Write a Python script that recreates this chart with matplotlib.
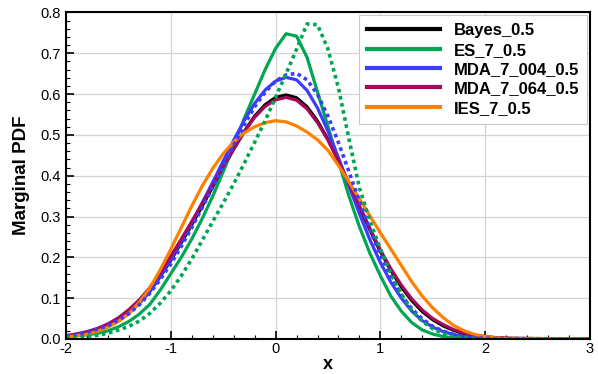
import numpy as np
import matplotlib
matplotlib.use('Agg')
import matplotlib.pyplot as plt
from matplotlib.ticker import MultipleLocator, FormatStrFormatter

plt.rcParams['font.family'] = ['Liberation Sans', 'DejaVu Sans']

# sample positions (x = -2.0 ... 2.2 by 0.1, then 3.0)
x = list(np.round(np.arange(-2.0, 2.21, 0.1), 1)) + [3.0]

bayes = [0.007, 0.010, 0.015, 0.022, 0.031, 0.045, 0.064, 0.088, 0.117, 0.153,
         0.193, 0.236, 0.280, 0.326, 0.373, 0.420, 0.465, 0.508, 0.546, 0.574,
         0.592, 0.598, 0.591, 0.569, 0.534, 0.489, 0.436, 0.380, 0.323, 0.267,
         0.214, 0.168, 0.127, 0.094, 0.067, 0.047, 0.032, 0.021, 0.013, 0.008,
         0.005, 0.003, 0.0015, 0.0]
es = [0.006, 0.008, 0.010, 0.014, 0.020, 0.030, 0.043, 0.061, 0.085, 0.120,
      0.160, 0.200, 0.245, 0.295, 0.350, 0.410, 0.472, 0.540, 0.600, 0.660,
      0.712, 0.748, 0.742, 0.690, 0.605, 0.520, 0.435, 0.350, 0.275, 0.210,
      0.155, 0.105, 0.068, 0.040, 0.022, 0.012, 0.006, 0.003, 0.0015, 0.0005,
      0.0, 0.0, 0.0, 0.0]
mda004 = [0.0065, 0.010, 0.015, 0.022, 0.032, 0.045, 0.064, 0.088, 0.117, 0.155,
          0.196, 0.240, 0.285, 0.334, 0.384, 0.436, 0.487, 0.535, 0.577, 0.610,
          0.632, 0.641, 0.635, 0.609, 0.566, 0.509, 0.444, 0.375, 0.307, 0.243,
          0.187, 0.139, 0.100, 0.068, 0.045, 0.029, 0.018, 0.011, 0.006, 0.0035,
          0.002, 0.001, 0.0005, 0.0]
mda064 = [0.008, 0.0125, 0.018, 0.026, 0.037, 0.052, 0.072, 0.096, 0.126, 0.162,
          0.203, 0.245, 0.288, 0.332, 0.377, 0.422, 0.466, 0.507, 0.543, 0.570,
          0.586, 0.592, 0.585, 0.564, 0.530, 0.487, 0.436, 0.382, 0.326, 0.271,
          0.218, 0.172, 0.132, 0.098, 0.071, 0.050, 0.035, 0.023, 0.015, 0.009,
          0.006, 0.0035, 0.002, 0.0]
ies = [0.005, 0.008, 0.012, 0.019, 0.029, 0.043, 0.062, 0.090, 0.125, 0.170,
       0.220, 0.273, 0.326, 0.375, 0.418, 0.454, 0.483, 0.505, 0.520, 0.530,
       0.535, 0.532, 0.522, 0.507, 0.488, 0.462, 0.425, 0.385, 0.343, 0.302,
       0.260, 0.220, 0.180, 0.140, 0.105, 0.076, 0.052, 0.033, 0.020, 0.011,
       0.006, 0.003, 0.001, 0.0]
# dotted curves (not in legend)
es_dot = [0.002, 0.004, 0.006, 0.009, 0.014, 0.022, 0.031, 0.044, 0.063, 0.088,
          0.118, 0.155, 0.196, 0.242, 0.288, 0.333, 0.380, 0.430, 0.482, 0.535,
          0.592, 0.650, 0.710, 0.772, 0.770, 0.710, 0.615, 0.490, 0.370, 0.290,
          0.220, 0.160, 0.110, 0.070, 0.043, 0.025, 0.013, 0.006, 0.003, 0.001,
          0.0, 0.0, 0.0, 0.0]
mda004_dot = [0.0075, 0.011, 0.016, 0.024, 0.033, 0.046, 0.062, 0.084, 0.112, 0.146,
              0.184, 0.227, 0.273, 0.322, 0.372, 0.424, 0.475, 0.524, 0.569, 0.605,
              0.632, 0.647, 0.651, 0.635, 0.599, 0.546, 0.481, 0.410, 0.337, 0.268,
              0.206, 0.153, 0.108, 0.074, 0.049, 0.031, 0.019, 0.011, 0.006, 0.0035,
              0.002, 0.001, 0.0005, 0.0]

fig = plt.figure(figsize=(5.98, 3.74), dpi=100)
ax = fig.add_axes([0.1104, 0.0936, 0.8762, 0.873])

lw = 2.3
ax.plot(x, bayes, color='#000000', lw=lw, label='Bayes_0.5')
ax.plot(x, es, color='#00a651', lw=lw, label='ES_7_0.5')
ax.plot(x, mda004, color='#3c3cff', lw=lw, label='MDA_7_004_0.5')
ax.plot(x, mda064, color='#a50a5a', lw=lw, label='MDA_7_064_0.5')
ax.plot(x, ies, color='#ff8000', lw=lw, label='IES_7_0.5')
ax.plot(x, mda004_dot, color='#3c3cff', lw=2.6, ls=(0, (1, 1)))
ax.plot(x, es_dot, color='#00a651', lw=2.6, ls=(0, (1, 1)))

ax.set_xlim(-2, 3)
ax.set_ylim(0, 0.8)
ax.xaxis.set_major_locator(MultipleLocator(1))
ax.xaxis.set_minor_locator(MultipleLocator(0.2))
ax.yaxis.set_major_locator(MultipleLocator(0.1))
ax.yaxis.set_minor_locator(MultipleLocator(0.02))
ax.yaxis.set_major_formatter(FormatStrFormatter('%.1f'))
ax.xaxis.set_major_formatter(FormatStrFormatter('%d'))
ax.tick_params(which='both', direction='in', top=False, right=False, labelsize=10.5)
ax.tick_params(which='major', length=6, width=1.2)
ax.tick_params(which='minor', length=3, width=0.8)
ax.tick_params(axis='x', pad=2)
ax.grid(True, which='major', color='#d4d4d4', lw=0.9)
ax.set_axisbelow(True)
for s in ax.spines.values():
    s.set_linewidth(1.5)

ax.set_xlabel('x', fontsize=13, fontweight='bold', labelpad=0)
ax.set_ylabel('Marginal PDF', fontsize=13.5, fontweight='bold', labelpad=8)

leg = ax.legend(loc='upper right', prop={'weight': 'bold', 'size': 12},
                handlelength=4.4, handletextpad=0.8, labelspacing=0.26,
                borderpad=0.5, borderaxespad=0.15, fancybox=False,
                framealpha=1, edgecolor='#c8c8c8')
leg.get_frame().set_linewidth(0.8)
for line in leg.get_lines():
    line.set_linewidth(3)

fig.savefig('out.png', dpi=100)
